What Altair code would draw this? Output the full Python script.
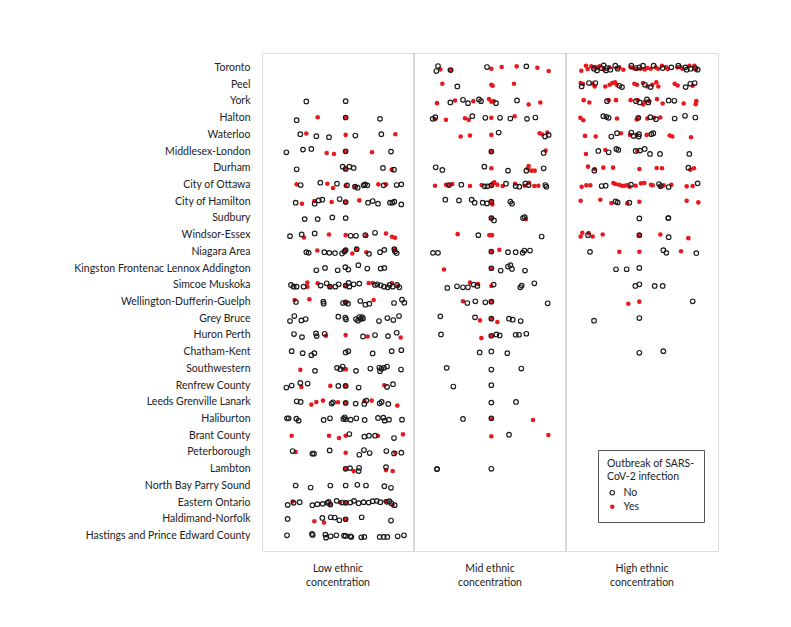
import altair as alt
import pandas as pd

RED = "#e8191e"
CONC = ["Low ethnic concentration", "Mid ethnic concentration", "High ethnic concentration"]
OUTBREAK = ["No", "Yes"]
LEGEND_TITLE = ["Outbreak of SARS-", "CoV-2 infection"]
ROWS = ["Toronto", "Peel", "York", "Halton", "Waterloo", "Middlesex-London", "Durham",
        "City of Ottawa", "City of Hamilton", "Sudbury", "Windsor-Essex", "Niagara Area",
        "Kingston Frontenac Lennox Addington", "Simcoe Muskoka", "Wellington-Dufferin-Guelph",
        "Grey Bruce", "Huron Perth", "Chatham-Kent", "Southwestern", "Renfrew County",
        "Leeds Grenville Lanark", "Haliburton", "Brant County", "Peterborough", "Lambton",
        "North Bay Parry Sound", "Eastern Ontario", "Haldimand-Norfolk",
        "Hastings and Prince Edward County"]

# (horizontal jitter within column 0..456, vertical jitter -25..25, outbreak 0=No 1=Yes)
LOW = {
    "York": [(133,0,0),(251,-1,0)],
    "Halton": [(104,6,0),(167,-3,1),(251,-2,1),(251,-2,0),(354,2,0)],
    "Waterloo": [(115,-2,0),(133,-4,1),(163,4,0),(201,7,0),(251,0,1),(280,2,0),(358,-2,0),(400,-2,1)],
    "Middlesex-London": [(73,2,0),(123,-6,0),(148,-8,0),(194,4,1),(216,7,1),(251,-1,1),(251,-1,0),(330,2,1),(387,0,0)],
    "Durham": [(104,3,0),(242,-5,0),(251,2,1),(251,2,0),(262,-5,0),(275,-1,0),(363,-1,0),(389,4,1),(396,4,0)],
    "City of Ottawa": [(104,-2,1),(116,0,0),(175,-7,0),(196,-4,1),(213,9,1),(225,-4,0),(251,2,1),(255,1,0),(279,5,1),(279,5,0),(287,8,0),(305,1,0),(309,-2,0),(316,1,0),(349,-2,1),(365,1,0),(372,-2,1),(404,0,0),(418,-2,0)],
    "City of Hamilton": [(101,3,0),(120,6,1),(157,-2,1),(158,6,0),(170,-4,0),(181,-6,0),(209,1,1),(233,-8,0),(251,1,1),(251,1,0),(292,-4,1),(318,3,0),(332,-2,0),(348,6,0),(384,3,0),(391,3,0),(397,0,0),(418,8,0)],
    "Sudbury": [(128,2,0),(167,2,0),(211,-3,0),(251,-1,0)],
    "Windsor-Essex": [(84,3,0),(119,-2,0),(126,7,1),(158,-5,0),(201,-2,1),(251,0,1),(266,2,0),(282,2,0),(310,0,0),(313,2,1),(339,-7,0),(372,-5,1),(390,5,1),(399,8,1)],
    "Niagara Area": [(133,1,0),(140,3,0),(166,-4,1),(187,1,0),(202,3,0),(219,4,0),(240,5,0),(247,-1,0),(251,-5,1),(251,-5,0),(271,5,1),(284,-8,1),(284,-8,0),(313,1,1),(321,6,0),(354,1,0),(367,-6,0),(397,-8,1),(397,-8,0),(399,-1,0),(404,4,0)],
    "Kingston Frontenac Lennox Addington": [(163,5,0),(189,-2,0),(227,5,0),(250,-4,0),(259,3,0),(289,-10,0),(316,0,0),(356,0,0),(367,-2,0)],
    "Simcoe Muskoka": [(87,-1,0),(95,4,0),(104,4,0),(125,4,0),(136,-8,1),(136,4,1),(167,-6,1),(176,1,0),(194,-6,0),(204,4,1),(204,4,0),(220,4,0),(230,-3,0),(251,1,1),(251,1,0),(260,-7,0),(262,4,0),(275,-3,0),(292,-5,0),(320,-7,1),(332,-7,1),(339,-1,0),(346,-3,0),(356,0,0),(366,4,0),(377,6,0),(383,-1,0),(390,-7,1),(392,4,0),(405,-1,0),(408,2,1),(412,6,0)],
    "Wellington-Dufferin-Guelph": [(98,-6,1),(102,0,0),(142,-8,1),(184,-1,0),(185,5,0),(243,3,0),(251,1,1),(251,1,0),(258,5,0),(295,-3,0),(310,8,0),(322,5,0),(335,-6,1),(396,3,0),(420,-7,0),(427,2,0)],
    "Grey Bruce": [(84,7,0),(97,-8,0),(118,5,0),(131,1,0),(229,-6,0),(250,-3,0),(252,2,0),(282,1,0),(288,6,0),(292,-5,0),(296,1,0),(300,-5,0),(303,-1,0),(351,7,0),(376,-2,0),(394,4,0),(411,-8,0)],
    "Huron Perth": [(96,-4,0),(120,5,0),(162,-6,0),(164,2,0),(188,-5,0),(192,1,1),(251,-1,1),(303,3,0),(317,3,1),(339,-1,0),(378,2,0),(404,-8,0),(416,6,1)],
    "Chatham-Kent": [(89,-3,0),(122,3,0),(148,9,0),(157,3,0),(251,1,0),(259,-3,0),(332,4,0),(389,-3,0),(418,-6,0)],
    "Southwestern": [(115,3,1),(159,6,0),(225,-3,0),(235,1,0),(242,-7,0),(245,1,1),(252,1,1),(282,6,0),(325,-1,0),(352,-4,0),(354,7,0),(358,0,0),(366,-3,0),(375,-7,0),(417,2,0)],
    "Renfrew County": [(73,6,0),(89,0,0),(115,-8,0),(118,4,1),(137,-6,0),(205,1,1),(229,1,0),(251,1,1),(251,1,0),(290,6,0),(367,-1,1),(375,4,0),(393,-4,0)],
    "Leeds Grenville Lanark": [(104,-3,0),(116,-1,0),(148,7,1),(163,-1,1),(183,-5,1),(209,4,0),(213,0,0),(228,0,1),(251,2,1),(251,2,0),(281,4,0),(307,-4,1),(307,5,0),(313,-5,0),(329,-5,1),(353,3,0),(359,-1,0),(379,5,0),(406,10,1)],
    "Haliburton": [(75,-2,0),(80,-2,0),(103,-1,0),(110,5,0),(185,3,0),(204,-2,0),(244,0,0),(248,-5,0),(251,1,0),(266,2,0),(283,-2,0),(308,3,0),(348,-3,0),(364,-4,0),(368,5,0),(381,2,0),(420,2,0)],
    "Brant County": [(89,0,1),(201,0,1),(231,7,1),(251,0,1),(262,-5,0),(307,3,0),(321,0,0),(339,0,0),(348,0,1),(396,7,0),(423,-4,1)],
    "Peterborough": [(92,-4,0),(101,-1,1),(151,4,0),(156,4,0),(203,-6,0),(251,1,1),(292,7,0),(306,-7,0),(323,2,0),(373,-4,0),(396,3,0),(400,1,1),(418,1,0)],
    "Lambton": [(251,-1,1),(251,-1,0),(264,-3,0),(275,6,1),(291,-4,0),(290,6,0),(372,3,1),(372,-6,0),(392,6,1)],
    "North Bay Parry Sound": [(101,-1,0),(146,5,0),(205,-1,0),(251,-1,0),(286,-3,0),(312,-1,0),(367,1,0),(387,6,0)],
    "Eastern Ontario": [(77,7,0),(92,-3,1),(95,1,0),(113,-1,0),(151,8,0),(166,5,0),(182,4,0),(196,1,0),(200,-2,0),(205,6,1),(205,6,0),(224,-5,0),(234,-1,1),(240,0,0),(251,1,1),(251,1,0),(265,0,0),(276,-5,0),(290,2,0),(305,-1,0),(320,0,0),(332,-4,0),(344,-5,0),(355,-1,0),(370,-4,1),(375,-2,0),(382,-4,0),(388,2,0),(392,8,1),(398,8,0)],
    "Haldimand-Norfolk": [(77,-1,0),(157,6,1),(181,-4,0),(186,10,1),(206,-6,0),(218,-5,0),(232,3,0),(251,0,1),(251,0,0),(299,-6,0),(387,4,0)],
    "Hastings and Prince Edward County": [(75,-2,0),(150,-6,0),(152,-3,0),(190,-4,0),(192,5,0),(206,1,0),(223,-2,0),(246,-1,0),(251,0,0),(265,1,0),(268,3,0),(298,4,0),(307,3,0),(353,3,0),(365,3,0),(376,3,0),(407,1,0),(426,-2,0)],
}

MID = {
    "Toronto": [(72,-6,0),(67,9,0),(79,4,1),(107,6,1),(110,6,1),(110,6,0),(219,-3,0),(232,2,1),(263,-3,1),(308,-5,1),(337,-5,0),(370,-1,1),(404,9,1)],
    "Peel": [(85,-3,1),(130,5,0),(232,0,1),(236,3,1),(300,-3,1)],
    "York": [(69,5,1),(109,3,0),(123,-3,1),(147,-5,0),(162,5,0),(178,-1,1),(195,-6,0),(201,-1,0),(225,-7,1),(232,1,1),(239,-1,1),(246,5,0),(309,-3,0),(344,9,1),(379,3,1)],
    "Halton": [(56,2,0),(64,-3,0),(63,3,1),(96,5,1),(153,0,1),(164,5,1),(175,-6,0),(214,-1,0),(232,-1,1),(258,-1,0),(289,1,0),(302,-6,1),(339,2,0),(364,-2,0)],
    "Waterloo": [(140,5,1),(168,2,1),(232,0,1),(254,-7,0),(377,-5,1),(385,-1,1),(393,5,0),(400,-7,1),(404,0,0)],
    "Middlesex-London": [(232,0,1),(232,0,0),(395,-3,1),(389,4,0)],
    "Durham": [(65,-3,0),(85,5,0),(211,-5,0),(232,0,1),(282,7,0),(344,-7,1),(341,0,1),(337,7,0),(352,7,1),(362,7,1),(389,0,0)],
    "City of Ottawa": [(63,2,1),(96,-1,1),(105,0,1),(105,0,0),(115,-3,1),(142,-1,0),(168,3,1),(203,0,1),(212,4,0),(220,4,0),(232,1,1),(232,1,0),(237,-5,1),(241,-8,1),(250,-1,1),(266,3,1),(276,-4,0),(303,-4,1),(305,3,0),(316,5,0),(332,2,1),(334,-5,0),(345,-7,1),(344,0,0),(361,3,1),(373,2,1),(394,0,0),(397,5,0)],
    "City of Hamilton": [(94,-6,0),(135,-4,0),(173,-6,0),(182,3,0),(206,3,0),(219,5,0),(232,0,1),(232,0,0),(235,8,1),(289,0,0),(294,6,0)],
    "Sudbury": [(232,-1,1),(232,-1,0),(240,6,0),(327,-1,0),(332,-4,0),(336,2,1)],
    "Windsor-Essex": [(131,-3,1),(193,0,0),(226,0,1),(234,0,1),(383,4,0)],
    "Niagara Area": [(57,3,0),(72,3,0),(232,-1,1),(232,-1,0),(256,-6,1),(282,1,0),(305,1,0),(326,3,0),(331,-4,0),(348,-4,0)],
    "Kingston Frontenac Lennox Addington": [(90,3,1),(232,-1,1),(232,-1,0),(260,6,0),(282,-6,0),(289,-10,0),(294,1,0),(333,6,0)],
    "Simcoe Muskoka": [(100,8,0),(129,3,0),(147,6,0),(162,6,0),(168,-8,1),(179,-2,0),(192,-4,1),(190,2,0),(232,2,1),(239,-2,0),(319,6,0),(323,1,0),(361,-6,0)],
    "Wellington-Dufferin-Guelph": [(147,-2,1),(160,3,0),(184,-2,0),(214,1,0),(232,-1,1),(232,-1,0),(401,4,0)],
    "Grey Bruce": [(79,-7,0),(183,-4,0),(198,5,1),(232,0,1),(232,0,0),(250,10,1),(285,0,0),(296,3,0),(320,7,0)],
    "Huron Perth": [(81,-3,0),(202,8,1),(232,1,1),(232,1,0),(247,-3,0),(257,0,0),(305,-2,0),(315,-2,0),(337,-5,0)],
    "Chatham-Kent": [(197,1,0),(232,-2,0),(280,3,0)],
    "Southwestern": [(98,-3,0),(232,2,0),(322,-1,0)],
    "Renfrew County": [(118,3,0),(232,-1,0)],
    "Leeds Grenville Lanark": [(232,1,0),(306,-1,0)],
    "Haliburton": [(147,0,0),(232,-2,1),(232,-2,0),(357,3,1)],
    "Brant County": [(232,2,1),(285,-3,0),(403,-2,1)],
    "Lambton": [(69,0,0),(69,0,0),(232,-1,0)],
}

HIGH = {
    "Toronto": [(46,8,1),(60,-7,1),(65,3,1),(76,-5,1),(81,-2,1),(84,2,0),(88,-3,1),(96,0,1),(93,7,0),(100,-5,1),(106,0,0),(113,-8,0),(113,4,1),(120,7,0),(122,0,0),(130,-2,1),(133,5,0),(148,-7,0),(152,0,1),(155,2,0),(160,-2,1),(172,5,1),(194,-2,1),(196,-7,0),(201,0,1),(209,0,0),(212,3,1),(220,-2,0),(224,2,1),(231,-7,0),(236,4,1),(244,0,1),(254,2,1),(263,-7,0),(269,-2,1),(276,2,1),(288,-7,1),(290,0,0),(300,-3,1),(305,3,1),(316,-2,0),(334,-2,1),(337,-7,0),(343,-3,1),(349,2,1),(358,-2,0),(362,5,0),(370,-7,1),(374,2,0),(385,-7,1),(388,0,0),(390,5,1),(395,5,0)],
    "Peel": [(44,-5,1),(47,5,0),(51,-2,1),(69,-5,0),(80,-3,1),(86,5,1),(88,-5,0),(118,5,1),(131,0,1),(139,-5,1),(147,-7,1),(152,0,1),(160,3,0),(168,7,0),(205,-3,1),(213,0,1),(231,-5,1),(237,0,0),(244,5,1),(254,7,0),(259,0,1),(271,-7,1),(277,5,1),(326,-3,1),(335,2,1),(359,7,0),(373,-3,0),(386,-5,0),(380,3,1)],
    "York": [(53,-4,1),(70,3,1),(123,-1,0),(128,-4,1),(150,-4,1),(194,-4,1),(210,-1,0),(215,-4,1),(221,3,0),(232,9,1),(236,1,1),(243,-6,0),(247,3,0),(250,-1,1),(273,-7,1),(290,6,1),(308,-3,0),(325,-2,0),(353,6,1),(389,8,1),(391,-1,1)],
    "Halton": [(43,-1,1),(52,6,1),(112,-6,0),(121,-4,0),(128,-1,0),(153,1,1),(212,4,1),(217,-1,1),(217,-1,0),(244,1,1),(253,-3,0),(264,-1,1),(270,3,0),(283,-2,1),(326,1,0),(357,-7,0),(388,-2,0)],
    "Waterloo": [(57,3,1),(89,5,1),(136,5,0),(153,-5,0),(165,-5,1),(196,-7,0),(192,0,1),(203,3,0),(212,0,1),(218,5,0),(219,-2,0),(242,0,1),(256,-2,0),(262,-5,0),(311,2,1),(319,5,1),(375,7,1)],
    "Middlesex-London": [(60,7,1),(97,-2,0),(118,-5,1),(128,2,0),(151,-8,0),(157,-5,0),(209,-2,0),(214,-2,1),(222,-3,0),(236,-8,0),(252,7,0),(282,7,0),(370,7,0)],
    "Durham": [(66,-5,1),(86,2,1),(85,7,0),(112,-2,1),(141,-2,1),(220,2,1),(272,-1,1),(288,0,1),(367,-2,0),(373,4,1),(384,0,1)],
    "City of Ottawa": [(47,5,1),(61,1,1),(73,1,1),(107,3,0),(119,2,0),(142,-6,1),(148,-3,1),(159,-1,1),(168,2,1),(176,2,1),(183,1,1),(191,5,1),(195,-1,0),(209,2,1),(225,-5,1),(235,-6,1),(255,-1,1),(260,1,1),(279,-3,0),(284,3,0),(283,5,1),(293,1,1),(308,6,0),(316,-1,1),(362,4,1),(380,3,1),(395,-5,0)],
    "City of Hamilton": [(44,-3,1),(103,-6,1),(136,4,1),(149,-1,0),(155,2,0),(184,5,1),(190,3,0),(220,0,1),(362,-3,1),(397,2,1)],
    "Sudbury": [(220,0,0),(307,-1,0),(307,-1,0)],
    "Windsor-Essex": [(49,-7,1),(44,4,1),(68,-6,1),(66,0,0),(80,4,1),(110,-2,1),(220,0,1),(220,0,0),(283,-2,1),(308,6,0),(367,9,1)],
    "Niagara Area": [(72,0,0),(160,0,1),(220,0,1),(292,-5,0),(301,3,0),(345,-2,1),(391,4,0)],
    "Kingston Frontenac Lennox Addington": [(150,2,0),(182,2,0),(220,-2,0)],
    "Simcoe Muskoka": [(208,2,0),(220,-3,0),(266,2,0),(290,2,0)],
    "Wellington-Dufferin-Guelph": [(187,5,1),(220,-1,1),(380,-2,0)],
    "Grey Bruce": [(84,6,0),(220,-2,0)],
    "Chatham-Kent": [(220,2,0),(292,-3,0)],
}

records = []
for conc, table in zip(CONC, [LOW, MID, HIGH]):
    for unit, pts in table.items():
        for jx, jy, flag in pts:
            records.append({"conc": conc, "unit": unit, "jx": jx, "jy": jy,
                            "outbreak": OUTBREAK[flag]})
df = pd.DataFrame(records)
df = df.sort_values("outbreak", ascending=False, kind="stable").reset_index(drop=True)

FONT = "Lato"
FS = 10.5
W, H = 456, 498

legend = alt.Legend(
    title=LEGEND_TITLE, orient="none", legendX=336, legendY=397, padding=9,
    strokeColor="#555555", fillColor="white", cornerRadius=0,
    titleFont=FONT, titleFontSize=FS, titleFontWeight="normal", titleColor="#222222",
    titleLineHeight=13, titlePadding=5, titleLimit=0,
    labelFont=FONT, labelFontSize=FS, labelColor="#222222",
    symbolSize=20, symbolStrokeWidth=1.1, rowPadding=3, labelOffset=6,
)

x_axis = alt.Axis(title=None, labelAngle=0, ticks=False, domain=False,
                  labelPadding=12, labelFontSize=FS, labelLineHeight=14,
                  labelColor="#222222", labelFont=FONT, labelBaseline="top",
                  labelExpr="[replace(datum.label, ' concentration', ''), 'concentration']")
x_scale = alt.Scale(domain=CONC, paddingInner=0, paddingOuter=0)

dividers = alt.Chart(pd.DataFrame({"conc": CONC[1:]})).mark_rule(
    color="#b4b4b4", strokeWidth=1).encode(
    x=alt.X("conc:N", sort=CONC, bandPosition=0, scale=x_scale, axis=x_axis),
    y=alt.value(0), y2=alt.value(H),
)

points = alt.Chart(df).mark_point(shape="circle", filled=True, size=21,
                                  strokeWidth=1.15, opacity=1).encode(
    x=alt.X("conc:N", sort=CONC, scale=x_scale, axis=x_axis),
    xOffset=alt.XOffset("jx:Q", scale=alt.Scale(domain=[0, 456])),
    y=alt.Y("unit:N", sort=ROWS,
            scale=alt.Scale(domain=ROWS, paddingInner=0, paddingOuter=0.4),
            axis=alt.Axis(title=None, ticks=False, domain=False, labelPadding=12,
                          minExtent=190, maxExtent=190, labelLimit=0,
                          labelFontSize=FS, labelColor="#222222", labelFont=FONT)),
    yOffset=alt.YOffset("jy:Q", scale=alt.Scale(domain=[-25, 25])),
    fill=alt.Fill("outbreak:N",
                  scale=alt.Scale(domain=OUTBREAK, range=["transparent", RED]),
                  legend=legend),
    stroke=alt.Stroke("outbreak:N",
                      scale=alt.Scale(domain=OUTBREAK, range=["#1a1a1a", "transparent"]),
                      legend=legend),
)

chart = alt.layer(dividers, points).properties(
    width=W, height=H,
    padding={"left": 64, "top": 44, "right": 10, "bottom": 10},
    background="white",
).configure_view(
    stroke="#8c8c8c", strokeWidth=1
).configure(font=FONT)

chart.save("out.html", embed_options={"renderer": "svg", "actions": False})
